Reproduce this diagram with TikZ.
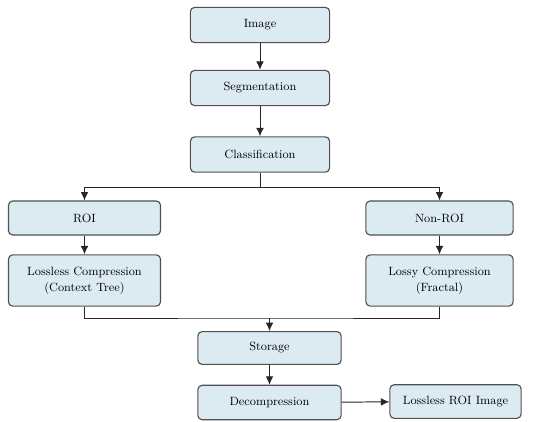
\documentclass[tikz,border=0pt]{standalone}
\usepackage{tikz}
\usetikzlibrary{arrows.meta, positioning}

\definecolor{boxfill}{RGB}{220,234,242}
\definecolor{boxline}{RGB}{80,80,80}

\tikzset{
    stepbox/.style={draw=boxline, fill=boxfill, rounded corners=3pt, line width=0.8pt,
        align=center, font=\fontsize{8.5}{11.5}\selectfont, inner sep=2pt},
    flow/.style={-{Latex[length=6pt, width=5.5pt]}, draw=black!85, line width=0.7pt}
}

\begin{document}
\begin{tikzpicture}[x=0.025cm, y=0.025cm]
                        \useasboundingbox (0,0) rectangle (550,-421);

                        \node[stepbox, minimum width=3.48cm, minimum height=0.88cm] (img) at (260,-25) {Image};
                        \node[stepbox, minimum width=3.48cm, minimum height=0.88cm] (seg) at (260,-88) {Segmentation};
                        \node[stepbox, minimum width=3.48cm, minimum height=0.88cm] (cls) at (260,-154.5) {Classification};
                        \node[stepbox, minimum width=3.8cm, minimum height=0.85cm] (roi) at (84.5,-218) {ROI};
                        \node[stepbox, minimum width=3.68cm, minimum height=0.85cm] (nroi) at (439.5,-218) {Non-ROI};
                        \node[stepbox, minimum width=3.8cm, minimum height=1.28cm] (lossless) at (84.5,-280.5) {Lossless Compression\\(Context Tree)};
                        \node[stepbox, minimum width=3.68cm, minimum height=1.28cm] (lossy) at (439.5,-280.5) {Lossy Compression\\(Fractal)};
                        \node[stepbox, minimum width=3.58cm, minimum height=0.82cm] (store) at (269.5,-348) {Storage};
                        \node[stepbox, minimum width=3.58cm, minimum height=0.86cm] (dec) at (269.5,-402.5) {Decompression};
                        \node[stepbox, minimum width=3.28cm, minimum height=0.84cm] (out) at (455.5,-401.5) {Lossless ROI Image};

                        \coordinate (split) at (260,-187);
                        \coordinate (merge) at (269.5,-318);

                        \draw[flow] (img) -- (seg);
                        \draw[flow] (seg) -- (cls);
                        \draw[draw=black!85, line width=0.7pt] (cls) -- (split);
                        \draw[flow] (split) -| (roi);
                        \draw[flow] (split) -| (nroi);
                        \draw[flow] (roi) -- (lossless);
                        \draw[flow] (nroi) -- (lossy);
                        \draw[draw=black!85, line width=0.7pt] (lossless) |- (merge) -| (lossy);
                        \draw[flow] (merge) -- (store);
                        \draw[flow] (store) -- (dec);
                        \draw[flow] (dec) -- (out);
                    \end{tikzpicture}
\end{document}
